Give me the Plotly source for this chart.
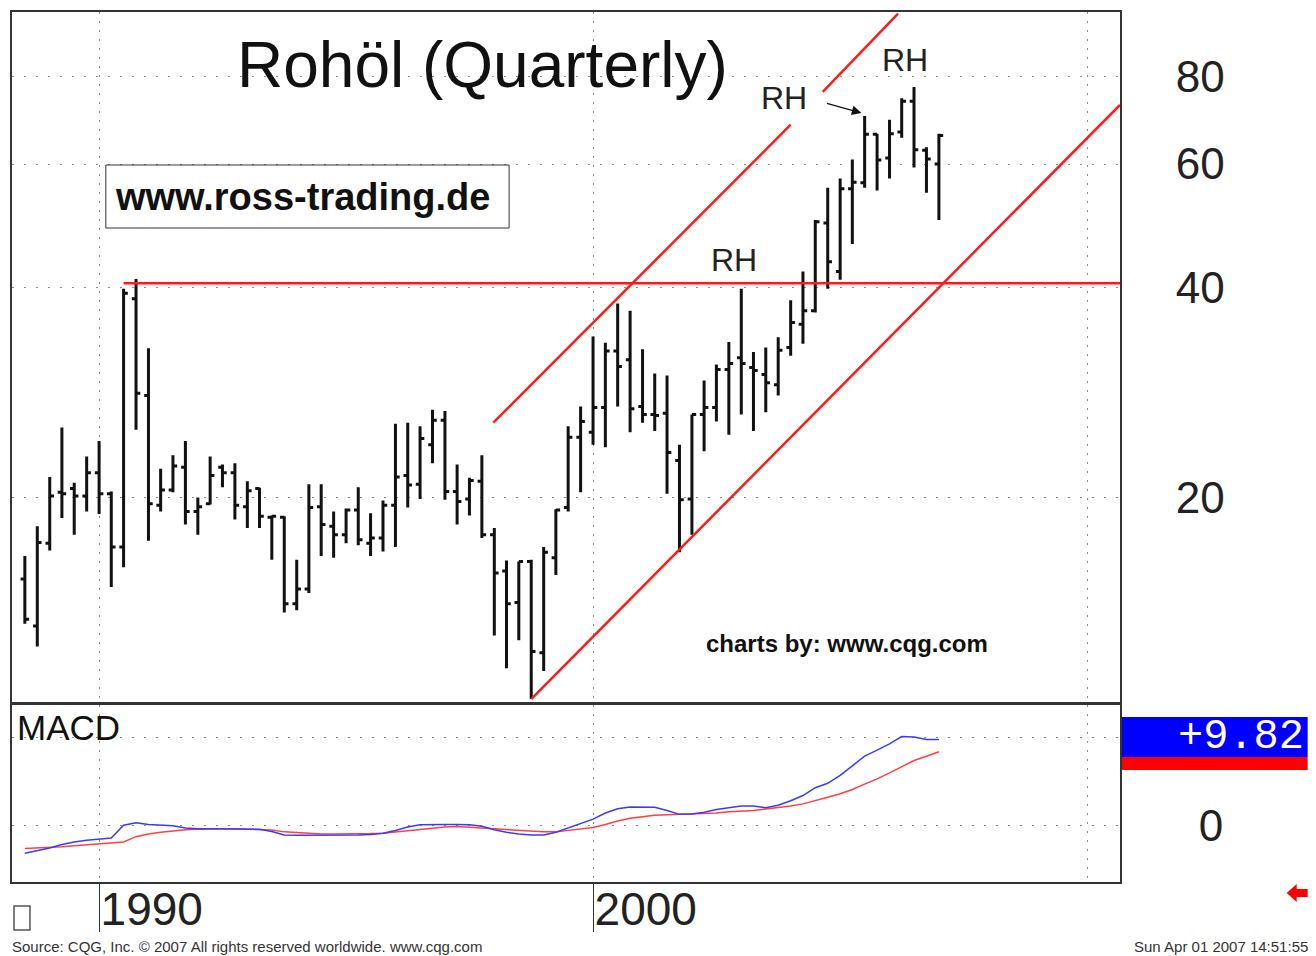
import numpy as np
import pandas as pd
import plotly.graph_objects as go

# ---------------- data ----------------
quarters = pd.date_range("1988-07-01", periods=75, freq="QS")

opens = [15.3, 13.1, 17.2, 20.35, 20.6, 20.1, 21.7, 20.25, 17.0, 38.5,
         28.0, 19.5, 20.5, 22.1, 19.1, 19.6, 22.1, 21.7, 19.4, 20.6,
         18.75, 18.75, 14.1, 14.8, 19.4, 18.2, 17.7, 19.2, 17.2, 17.5,
         19.5, 21.5, 20.9, 23.8, 25.8, 20.4, 19.9, 21.1, 17.7, 15.7,
         14.15, 16.2, 12.0, 16.4, 19.35, 24.4, 24.8, 26.9, 32.4, 31.5,
         27.0, 26.3, 26.4, 22.6, 19.9, 26.3, 26.9, 30.5, 31.7, 30.7,
         30.0, 29.0, 32.8, 35.4, 37.0, 49.4, 42.1, 55.3, 56.4, 66.2,
         61.2, 66.7, 73.8, 62.8, 60.0]
highs = [16.5, 18.2, 21.4, 25.2, 21.0, 22.9, 24.1, 20.4, 39.8, 41.1,
         32.7, 22.0, 23.0, 24.1, 20.0, 22.9, 22.3, 22.4, 21.1, 20.65,
         18.85, 18.8, 16.3, 20.9, 20.9, 19.1, 19.3, 20.7, 19.0, 19.8,
         25.5, 25.6, 25.3, 26.7, 26.6, 22.3, 21.35, 23.0, 18.1, 16.25,
         16.2, 16.3, 17.0, 19.25, 25.3, 27.0, 34.0, 33.3, 37.9, 37.0,
         32.6, 30.1, 29.9, 23.8, 26.3, 29.4, 31.0, 33.4, 39.8, 32.3,
         32.8, 33.9, 38.3, 42.1, 49.9, 55.5, 57.2, 60.9, 70.3, 66.3,
         69.4, 74.5, 77.3, 63.4, 66.3]
lows = [13.2, 12.25, 16.8, 18.7, 17.7, 19.1, 18.95, 14.9, 15.9, 25.0,
        17.35, 19.1, 20.35, 18.3, 17.7, 19.55, 20.7, 18.6, 18.1, 18.1,
        16.3, 13.7, 13.8, 14.6, 16.5, 16.4, 17.2, 17.1, 16.5, 16.75,
        17.0, 19.35, 19.9, 22.4, 19.85, 18.3, 18.85, 17.5, 12.7, 11.4,
        12.5, 10.3, 11.3, 15.5, 19.1, 20.35, 23.8, 23.6, 27.0, 24.8,
        25.6, 24.9, 20.25, 16.7, 17.7, 23.3, 25.7, 24.6, 26.3, 24.9,
        26.5, 28.0, 31.9, 33.2, 36.8, 39.8, 41.0, 46.1, 55.5, 55.0,
        57.2, 65.4, 59.3, 54.6, 49.9]
closes = [13.4, 17.25, 20.1, 20.25, 20.1, 21.7, 20.25, 17.0, 39.2, 28.2,
          19.6, 20.5, 22.2, 19.1, 19.4, 21.5, 21.7, 19.5, 20.45, 18.8,
          18.8, 14.1, 14.8, 19.35, 18.3, 17.7, 19.2, 17.4, 17.5, 19.5,
          21.4, 20.85, 24.3, 25.8, 20.4, 19.75, 21.15, 17.7, 15.6, 14.1,
          16.2, 12.05, 16.7, 19.2, 24.4, 25.7, 26.9, 32.4, 30.8, 26.8,
          26.3, 26.2, 23.2, 19.85, 26.3, 26.9, 30.5, 31.1, 31.1, 30.4,
          29.2, 32.5, 35.6, 37.0, 49.6, 43.5, 55.3, 56.5, 66.2, 60.8,
          66.3, 73.8, 62.9, 61.0, 65.9]

macd = [-3.2, -2.9, -2.6, -2.2, -1.9, -1.7, -1.55, -1.45, 0.0, 0.3,
        0.1, 0.05, -0.05, -0.3, -0.4, -0.4, -0.4, -0.4, -0.4, -0.45,
        -0.7, -1.1, -1.15, -1.15, -1.15, -1.1, -1.1, -1.1, -1.05, -0.9,
        -0.6, -0.2, 0.05, 0.1, 0.1, 0.1, 0.05, -0.1, -0.5, -0.8,
        -1.0, -1.1, -1.1, -0.8, -0.3, 0.2, 0.7, 1.4, 1.9, 2.1,
        2.1, 2.05, 1.7, 1.25, 1.3, 1.5, 1.8, 2.0, 2.2, 2.2,
        2.0, 2.3, 2.8, 3.4, 4.3, 4.8, 5.7, 6.8, 7.9, 8.6,
        9.3, 10.15, 10.1, 9.8, 9.82]
signal = [-2.65, -2.6, -2.55, -2.45, -2.35, -2.25, -2.15, -2.0, -1.9, -1.3,
          -1.0, -0.8, -0.65, -0.5, -0.45, -0.4, -0.4, -0.4, -0.45, -0.45,
          -0.55, -0.75, -0.85, -0.95, -1.0, -1.0, -1.0, -1.0, -0.95, -0.9,
          -0.75, -0.6, -0.45, -0.3, -0.2, -0.15, -0.2, -0.3, -0.4, -0.5,
          -0.6, -0.7, -0.75, -0.75, -0.6, -0.45, -0.25, 0.1, 0.5, 0.8,
          1.0, 1.15, 1.2, 1.25, 1.3, 1.35, 1.4, 1.55, 1.6, 1.7,
          1.85, 2.0, 2.2, 2.45, 2.8, 3.2, 3.6, 4.1, 4.7, 5.3,
          6.0, 6.7, 7.4, 7.9, 8.4]

# trend lines (date, price)
resist_x = ["1990-07-01", "2010-09-01"]
resist_y = [40.5, 40.5]
chan_low_x = ["1998-10-01", "2010-09-01"]
chan_low_y = [10.3, 72.9]
chan_up1_x = ["1997-12-25", "2004-01-01"]
chan_up1_y = [25.6, 68.3]
chan_up2_x = ["2004-08-25", "2006-03-05"]
chan_up2_y = [76.1, 98.5]

price_ticks = [20, 40, 60, 80]
year_ticks = ["1990-01-01", "2000-01-01"]
year_labels = ["1990", "2000"]
grid_years = ["1990-01-01", "2000-01-01", "2010-01-01"]

# ---------------- layout geometry ----------------
W, H = 1316, 956
ML, MR, MT, MB = 10, 196, 12, 74
PW, PH = W - ML - MR, H - MT - MB


def pxx(x):
    return (x - ML) / PW


def pyy(y):
    return (H - MB - y) / PH


FONT = "Liberation Sans"
RED = "#ff1a1a"
GRID = "#8a8a8a"
DASH = "2px,10px"

fig = go.Figure()

fig.add_trace(go.Ohlc(
    x=quarters, open=opens, high=highs, low=lows, close=closes,
    increasing=dict(line=dict(color="#111111", width=3)),
    decreasing=dict(line=dict(color="#111111", width=3)),
    tickwidth=0.35, showlegend=False, xaxis="x", yaxis="y"))

for xs, ys in [(resist_x, resist_y), (chan_low_x, chan_low_y),
               (chan_up1_x, chan_up1_y), (chan_up2_x, chan_up2_y)]:
    fig.add_trace(go.Scatter(x=xs, y=ys, mode="lines",
                             line=dict(color=RED, width=2.5),
                             showlegend=False, xaxis="x", yaxis="y",
                             hoverinfo="skip"))

fig.add_trace(go.Scatter(x=quarters, y=signal, mode="lines",
                         line=dict(color="#ff4040", width=1.5),
                         showlegend=False, xaxis="x2", yaxis="y2"))
fig.add_trace(go.Scatter(x=quarters, y=macd, mode="lines",
                         line=dict(color="#3a3aff", width=1.5),
                         showlegend=False, xaxis="x2", yaxis="y2"))

x_range = ["1988-03-28", "2010-09-01"]
minor_grid = dict(tickmode="array", tickvals=grid_years, showgrid=True,
                  gridcolor=GRID, griddash="2px,7px", gridwidth=1, ticks="")

fig.update_layout(
    width=W, height=H,
    margin=dict(l=ML, r=MR, t=MT, b=MB, pad=0),
    paper_bgcolor="white", plot_bgcolor="white",
    font=dict(family=FONT, color="#222222"),
    showlegend=False,
    xaxis=dict(domain=[0, 1], anchor="y", type="date", range=x_range,
               showticklabels=False, ticks="", showgrid=False,
               showline=True, mirror=True, linecolor="#333333", linewidth=2,
               rangeslider=dict(visible=False), minor=minor_grid),
    yaxis=dict(domain=[pyy(702), 1], anchor="x", type="log",
               range=[np.log10(10.2), np.log10(99)], side="right",
               tickvals=price_ticks, ticktext=[str(v) for v in price_ticks],
               ticks="", showgrid=True, gridcolor=GRID, griddash=DASH,
               showline=True, mirror=True, linecolor="#333333", linewidth=2,
               tickfont=dict(size=44, color="#222222"), ticklabelstandoff=45),
    xaxis2=dict(domain=[0, 1], anchor="y2", type="date", matches="x",
                range=x_range, tickvals=year_ticks, ticktext=year_labels,
                ticks="outside", ticklen=48, tickcolor="#333333", tickwidth=1,
                ticklabelposition="outside right", ticklabelstandoff=-14,
                tickfont=dict(size=46, color="#222222"),
                showgrid=False, showline=True, mirror=True,
                linecolor="#333333", linewidth=2, minor=minor_grid),
    yaxis2=dict(domain=[0, pyy(705)], anchor="x2", range=[-6.48, 13.75],
                side="right", tickvals=[0, 10], ticktext=["0", ""], ticks="",
                showgrid=True, gridcolor=GRID, griddash=DASH, zeroline=False,
                showline=True, mirror=True, linecolor="#333333", linewidth=2,
                tickfont=dict(size=44, color="#222222"), ticklabelstandoff=68),
)

ann = []
ann.append(dict(text="Rohöl (Quarterly)", x=pxx(481), y=pyy(65), xref="paper",
                yref="paper", showarrow=False, xanchor="center", yanchor="middle",
                font=dict(size=64, color="#111111", family=FONT)))
ann.append(dict(text="<b>www.ross-trading.de</b>", x=pxx(301), y=pyy(197),
                xref="paper", yref="paper", showarrow=False, xanchor="center",
                yanchor="middle",
                font=dict(size=38, color="#111111", family=FONT)))
ann.append(dict(text="<b>charts by: www.cqg.com</b>", x=pxx(847), y=pyy(643),
                xref="paper", yref="paper", showarrow=False, xanchor="center",
                yanchor="middle", font=dict(size=24, color="#111111", family=FONT)))
for (cx, cy) in [(733, 260), (783, 98), (905, 60)]:
    ann.append(dict(text="RH", x=pxx(cx), y=pyy(cy), xref="paper", yref="paper",
                    showarrow=False, xanchor="center", yanchor="middle",
                    font=dict(size=32, color="#222222", family=FONT)))
ann.append(dict(text="", x=pxx(861), y=pyy(113), xref="paper", yref="paper",
                showarrow=True, ax=-36, ay=-10, arrowhead=2, arrowsize=1.6,
                arrowwidth=1.2, arrowcolor="#111111"))
ann.append(dict(text="MACD", x=pxx(13), y=pyy(727), xref="paper", yref="paper",
                showarrow=False, xanchor="left", yanchor="middle",
                font=dict(size=35, color="#111111", family=FONT)))
ann.append(dict(text=f"+{macd[-1]:.2f}", x=pxx(1306), y=pyy(737), xref="paper",
                yref="paper", showarrow=False, xanchor="right", yanchor="middle",
                font=dict(size=42, color="white", family="Liberation Mono")))
ann.append(dict(text="Source: CQG, Inc. © 2007 All rights reserved worldwide. www.cqg.com",
                x=pxx(8), y=pyy(946), xref="paper", yref="paper", showarrow=False,
                xanchor="left", yanchor="middle",
                font=dict(size=15, color="#333333", family=FONT)))
ann.append(dict(text="Sun Apr 01 2007 14:51:55", x=pxx(1310), y=pyy(946),
                xref="paper", yref="paper", showarrow=False, xanchor="right",
                yanchor="middle", font=dict(size=15, color="#333333", family=FONT)))
fig.update_layout(annotations=ann)

shapes = []
shapes.append(dict(type="rect", xref="paper", yref="paper",
                   x0=pxx(104), x1=pxx(508), y0=pyy(228), y1=pyy(165),
                   fillcolor="rgba(0,0,0,0)", line=dict(color="#333333", width=1)))
shapes.append(dict(type="rect", xref="paper", yref="paper",
                   x0=pxx(1122), x1=pxx(1308), y0=pyy(770), y1=pyy(757),
                   fillcolor="#ff0000", line=dict(width=0), layer="below"))
shapes.append(dict(type="rect", xref="paper", yref="paper",
                   x0=pxx(1122), x1=pxx(1308), y0=pyy(757), y1=pyy(717),
                   fillcolor="#0000ff", line=dict(width=0), layer="below"))
shapes.append(dict(type="rect", xref="paper", yref="paper",
                   x0=pxx(12), x1=pxx(28), y0=pyy(930), y1=pyy(906),
                   fillcolor="white", line=dict(color="#555555", width=1.5)))
arrow_pts = [(1287, 893), (1297, 884), (1297, 889), (1308, 889), (1308, 897),
             (1297, 897), (1297, 902)]
path = "M " + " L ".join(f"{pxx(a):.5f},{pyy(b):.5f}" for a, b in arrow_pts) + " Z"
shapes.append(dict(type="path", xref="paper", yref="paper", path=path,
                   fillcolor="#ff0000", line=dict(width=0)))
fig.update_layout(shapes=shapes)

fig.write_html("out.html", config={"displayModeBar": False},
               post_script="document.body.style.margin='0';document.body.style.overflow='hidden';")
